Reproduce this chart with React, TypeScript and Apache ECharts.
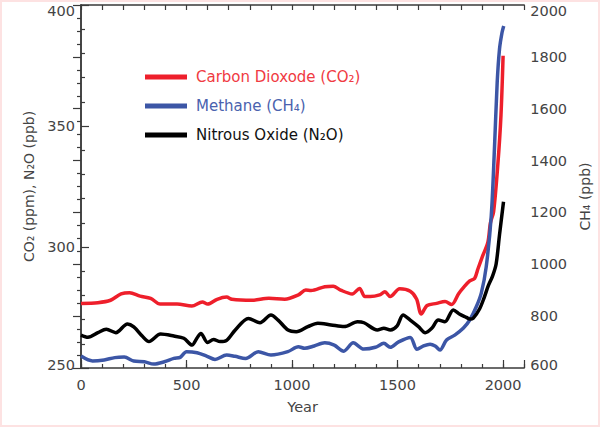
import React, { useEffect, useRef } from "react";
import * as echarts from "echarts";

// ---- Data ----
const CO2_YEARS = [0, 80, 140, 190, 230, 280, 330, 375, 455, 525, 575, 600, 645, 690, 715, 810, 890, 965, 1030, 1065, 1090, 1155, 1195, 1230, 1285, 1320, 1345, 1370, 1415, 1440, 1465, 1510, 1560, 1590, 1612, 1640, 1685, 1725, 1756, 1790, 1815, 1842, 1865, 1881, 1904, 1928, 1940, 1955, 1975, 1990, 2000];
const CO2_PPM = [276.7, 277, 278, 280.6, 281.1, 279.7, 278.8, 276.4, 276.4, 275.6, 277.3, 276.4, 278.4, 279.3, 278.4, 278, 278.8, 278.4, 280.2, 282.2, 282, 283.6, 283.8, 282.2, 280.6, 282.9, 279.5, 279.5, 280.2, 281.5, 279.5, 282.7, 281.7, 278.5, 272.3, 275.8, 276.7, 277.5, 276.2, 280.8, 283.5, 286, 287, 291, 296.5, 302, 310, 314.6, 334, 354.5, 379];

const CH4_YEARS = [0, 55, 110, 160, 205, 250, 300, 345, 395, 440, 470, 500, 550, 595, 635, 690, 730, 780, 840, 900, 980, 1030, 1060, 1105, 1155, 1200, 1245, 1290, 1340, 1395, 1435, 1465, 1505, 1560, 1592, 1623, 1654, 1678, 1701, 1732, 1771, 1811, 1842, 1873, 1897, 1920, 1944, 1959, 1972, 1983, 1995, 2003];
const CH4_PPB = [646, 627, 631, 640, 642, 627, 624, 615, 624, 637, 641, 663, 659, 646, 633, 650, 645, 637, 663, 650, 663, 682, 676, 685, 697, 688, 665, 697, 673, 680, 695, 680, 701, 718, 672, 685, 692, 685, 669, 708, 727, 753, 785, 836, 890, 990, 1188, 1445, 1701, 1830, 1894, 1919];

const N2O_YEARS = [0, 33, 80, 120, 165, 220, 250, 290, 322, 377, 440, 487, 526, 549, 568, 600, 628, 659, 690, 731, 793, 848, 900, 934, 981, 1020, 1075, 1122, 1185, 1247, 1310, 1341, 1404, 1435, 1466, 1498, 1526, 1560, 1599, 1631, 1662, 1693, 1724, 1764, 1795, 1826, 1842, 1858, 1889, 1910, 1930, 1950, 1967, 1983, 2002];
const N2O_PPB = [263.6, 262.7, 264.6, 266, 264.6, 268.2, 267, 263.2, 260.9, 264, 263.2, 262.3, 259.5, 262.3, 264.3, 260.5, 261.8, 260.9, 261.4, 265.7, 270.5, 268.7, 271.9, 269.8, 265.7, 265, 267.1, 268.5, 267.8, 267.1, 269.1, 268.7, 265.7, 266.4, 265.7, 267.4, 271.9, 269.8, 267.1, 264.6, 266.4, 269.8, 269.1, 274, 272.2, 270.9, 270.2, 270.5, 274.5, 279, 284, 288, 293, 305, 318.7];

const X_LABELS = [0, 500, 1000, 1500, 2000];
const SERIES_NAMES = ["Carbon Dioxode (CO₂)", "Methane (CH₄)", "Nitrous Oxide (N₂O)"];

const pairs = (xs: number[], ys: number[]) => xs.map((x, i) => [x, ys[i]]);

const FONT = "DejaVu Sans";
const AXIS_COLOR = "#3a3a3a";
const LABEL_COLOR = "#444444";
const RED = "#ee1f2b";
const BLUE = "#3c56a6";
const BLACK = "#000000";

export default function App() {
  const ref = useRef<HTMLDivElement>(null);

  useEffect(() => {
    if (!ref.current) return;
    const chart = echarts.init(ref.current, undefined, { renderer: "svg" });
    const axisLine = { show: true, lineStyle: { color: AXIS_COLOR, width: 1.5 } };
    const tickStyle = { color: AXIS_COLOR, width: 1.2 };
    const labelBase = { color: LABEL_COLOR, fontFamily: FONT, fontSize: 14.5 };
    const grid = { left: 81, right: 72, top: 5, bottom: 59 };

    const option: any = {
      animation: false,
      backgroundColor: "#ffffff",
      textStyle: { fontFamily: FONT },
      grid,
      legend: {
        orient: "vertical",
        left: 145,
        top: 68,
        padding: 0,
        icon: "rect",
        itemWidth: 42,
        itemHeight: 5,
        itemGap: 11,
        textStyle: { fontFamily: FONT, fontSize: 15, lineHeight: 18, padding: [0, 0, 0, 4] },
        data: [
          { name: SERIES_NAMES[0], textStyle: { color: "#f03a42" } },
          { name: SERIES_NAMES[1], textStyle: { color: "#4a62ae" } },
          { name: SERIES_NAMES[2], textStyle: { color: "#111111" } },
        ],
      },
      xAxis: [
        {
          type: "value", min: 0, max: 2100, interval: 100, position: "bottom",
          axisLine, axisTick: { show: true, inside: true, length: 4, lineStyle: tickStyle },
          axisLabel: { show: false }, splitLine: { show: false },
        },
        {
          type: "value", min: 0, max: 2100, interval: 500, position: "bottom",
          axisLine: { show: false },
          axisTick: { show: true, inside: true, length: 8, lineStyle: tickStyle },
          axisLabel: {
            ...labelBase, margin: 9,
            formatter: (v: number) => (X_LABELS.includes(v) ? String(v) : ""),
          },
          splitLine: { show: false },
          name: "Year", nameLocation: "middle", nameGap: 31,
          nameTextStyle: { ...labelBase, fontSize: 14.5 },
        },
        {
          type: "value", min: 0, max: 2100, interval: 100, position: "top",
          axisLine, axisTick: { show: true, inside: true, length: 5, lineStyle: tickStyle },
          axisLabel: { show: false }, splitLine: { show: false },
        },
      ],
      yAxis: [
        {
          type: "value", min: 250, max: 400, interval: 50, position: "left",
          axisLine, axisTick: { show: true, inside: true, length: 8, lineStyle: tickStyle },
          minorTick: { show: true, splitNumber: 5, length: 4, lineStyle: tickStyle },
          splitLine: { show: false }, minorSplitLine: { show: false },
          axisLabel: {
            ...labelBase, margin: 6,
            formatter: (v: number) => (v === 400 ? "{t|" + v + "}" : v === 250 ? "{b|" + v + "}" : "{m|" + v + "}"),
            rich: {
              t: { ...labelBase, padding: [12, 0, 0, 0] },
              b: { ...labelBase, padding: [0, 0, 6, 0] },
              m: { ...labelBase },
            },
          },
          name: "CO₂ (ppm), N₂O (ppb)", nameLocation: "middle", nameGap: 45, nameRotate: 90,
          nameTextStyle: { ...labelBase, fontSize: 14 },
        },
        {
          type: "value", min: 600, max: 2000, interval: 200, position: "right",
          axisLine, axisTick: { show: true, inside: true, length: 8, lineStyle: tickStyle },
          minorTick: { show: true, splitNumber: 4, length: 4, lineStyle: tickStyle },
          splitLine: { show: false }, minorSplitLine: { show: false },
          axisLabel: {
            ...labelBase, margin: 6,
            formatter: (v: number) => (v === 2000 ? "{t|" + v + "}" : v === 600 ? "{b|" + v + "}" : "{m|" + v + "}"),
            rich: {
              t: { ...labelBase, padding: [12, 0, 0, 0] },
              b: { ...labelBase, padding: [0, 0, 6, 0] },
              m: { ...labelBase },
            },
          },
          name: "CH₄ (ppb)", nameLocation: "middle", nameGap: 46, nameRotate: 90,
          nameTextStyle: { ...labelBase, fontSize: 14, padding: [0, 20, 0, 0] },
        },
      ],
      series: [
        {
          name: SERIES_NAMES[0], type: "line", xAxisIndex: 0, yAxisIndex: 0,
          data: pairs(CO2_YEARS, CO2_PPM), showSymbol: false, smooth: 0.3,
          lineStyle: { color: RED, width: 3.5 }, itemStyle: { color: RED },
        },
        {
          name: SERIES_NAMES[1], type: "line", xAxisIndex: 0, yAxisIndex: 1,
          data: pairs(CH4_YEARS, CH4_PPB), showSymbol: false, smooth: 0.3,
          lineStyle: { color: BLUE, width: 3.5 }, itemStyle: { color: BLUE },
        },
        {
          name: SERIES_NAMES[2], type: "line", xAxisIndex: 0, yAxisIndex: 0,
          data: pairs(N2O_YEARS, N2O_PPB), showSymbol: false, smooth: 0.3,
          lineStyle: { color: BLACK, width: 3.5 }, itemStyle: { color: BLACK },
        },
      ],
      graphic: [
        {
          type: "rect", silent: true, z: -1,
          shape: { x: 1, y: 1, width: 598, height: 425 },
          style: { fill: "none", stroke: "#fde2e2", lineWidth: 2 },
        },
      ],
    };
    chart.setOption(option);
    return () => chart.dispose();
  }, []);

  return (
    <div
      ref={ref}
      style={{ position: "fixed", left: 0, top: 0, width: 600, height: 427, background: "#fff" }}
    />
  );
}
